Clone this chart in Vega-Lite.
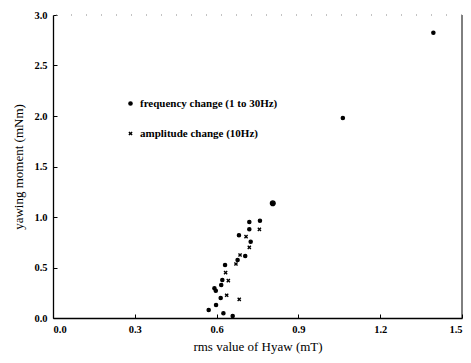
{
  "$schema": "https://vega.github.io/schema/vega-lite/v6.json",
  "width": 409,
  "height": 303,
  "autosize": "none",
  "padding": {"left": 53, "top": 15, "right": 9, "bottom": 45},
  "background": "white",
  "config": {
    "view": {"stroke": null},
    "font": "Liberation Serif",
    "axis": {"domainColor": "black", "domainWidth": 1.3, "tickColor": "black", "grid": false, "labelFont": "Liberation Serif", "labelFontWeight": "bold", "labelFontSize": 10.5, "labelColor": "black", "titleFont": "Liberation Serif", "titleFontWeight": "normal", "titleFontSize": 13, "titleColor": "black"}
  },
  "data": {"values": [
    {"h": 0.806, "m": 1.136, "s": "frequency change (1 to 30Hz)"},
    {"h": 0.720, "m": 0.950, "s": "frequency change (1 to 30Hz)"},
    {"h": 0.759, "m": 0.963, "s": "frequency change (1 to 30Hz)"},
    {"h": 0.720, "m": 0.878, "s": "frequency change (1 to 30Hz)"},
    {"h": 0.682, "m": 0.820, "s": "frequency change (1 to 30Hz)"},
    {"h": 0.725, "m": 0.755, "s": "frequency change (1 to 30Hz)"},
    {"h": 0.705, "m": 0.614, "s": "frequency change (1 to 30Hz)"},
    {"h": 0.677, "m": 0.574, "s": "frequency change (1 to 30Hz)"},
    {"h": 0.631, "m": 0.525, "s": "frequency change (1 to 30Hz)"},
    {"h": 0.621, "m": 0.376, "s": "frequency change (1 to 30Hz)"},
    {"h": 0.617, "m": 0.327, "s": "frequency change (1 to 30Hz)"},
    {"h": 0.592, "m": 0.294, "s": "frequency change (1 to 30Hz)"},
    {"h": 0.597, "m": 0.270, "s": "frequency change (1 to 30Hz)"},
    {"h": 0.615, "m": 0.198, "s": "frequency change (1 to 30Hz)"},
    {"h": 0.598, "m": 0.129, "s": "frequency change (1 to 30Hz)"},
    {"h": 0.571, "m": 0.079, "s": "frequency change (1 to 30Hz)"},
    {"h": 0.625, "m": 0.047, "s": "frequency change (1 to 30Hz)"},
    {"h": 0.659, "m": 0.020, "s": "frequency change (1 to 30Hz)"},
    {"h": 1.063, "m": 1.980, "s": "frequency change (1 to 30Hz)"},
    {"h": 1.395, "m": 2.825, "s": "frequency change (1 to 30Hz)"},
    {"h": 0.757, "m": 0.878, "s": "amplitude change (10Hz)"},
    {"h": 0.708, "m": 0.805, "s": "amplitude change (10Hz)"},
    {"h": 0.720, "m": 0.700, "s": "amplitude change (10Hz)"},
    {"h": 0.686, "m": 0.624, "s": "amplitude change (10Hz)"},
    {"h": 0.671, "m": 0.535, "s": "amplitude change (10Hz)"},
    {"h": 0.633, "m": 0.449, "s": "amplitude change (10Hz)"},
    {"h": 0.643, "m": 0.370, "s": "amplitude change (10Hz)"},
    {"h": 0.637, "m": 0.225, "s": "amplitude change (10Hz)"},
    {"h": 0.683, "m": 0.185, "s": "amplitude change (10Hz)"}
  ]},
  "layer": [
    {
      "mark": {"type": "point", "filled": true, "color": "black", "fill": "black", "stroke": "black", "opacity": 1, "strokeWidth": 1.4},
      "encoding": {
        "x": {"field": "h", "type": "quantitative", "scale": {"domain": [0, 1.5], "nice": false, "zero": false},
              "axis": {"values": [0, 0.3, 0.6, 0.9, 1.2, 1.5], "format": ".1f", "tickSize": -4, "labelPadding": 10, "title": "rms value of Hyaw  (mT)", "titlePadding": 6}},
        "y": {"field": "m", "type": "quantitative", "scale": {"domain": [0, 3], "nice": false},
              "axis": {"values": [0, 0.5, 1, 1.5, 2, 2.5, 3], "format": ".1f", "tickSize": -4, "labelPadding": 10, "title": "yawing moment  (mNm)", "titlePadding": 8}},
        "shape": {"field": "s", "type": "nominal",
                  "scale": {"domain": ["frequency change (1 to 30Hz)", "amplitude change (10Hz)"], "range": ["circle", "M-1,-1L1,1M1,-1L-1,1"]},
                  "legend": {"title": null, "orient": "none", "legendX": 72, "legendY": 83, "labelFont": "Liberation Serif", "labelFontSize": 11, "labelFontWeight": "bold", "labelColor": "black", "rowPadding": 18, "symbolSize": 10,
                             "encode": {"symbols": {"update": {"fill": {"value": "black"}, "stroke": {"value": "black"}, "strokeWidth": {"value": 1.4}, "opacity": {"value": 1}}}}}},
        "size": {"condition": {"test": "datum.h > 0.8 && datum.h < 0.82", "value": 22}, "value": 10}
      }
    },
    {
      "mark": {"type": "rule", "color": "black", "strokeWidth": 1},
      "data": {"values": [{"h": 1.5}]},
      "encoding": {"x": {"field": "h", "type": "quantitative"}}
    },
    {
      "mark": {"type": "rule", "color": "#888", "strokeWidth": 1, "strokeDash": [1, 14]},
      "data": {"values": [{"m": 3}]},
      "encoding": {"y": {"field": "m", "type": "quantitative"}}
    }
  ]
}
